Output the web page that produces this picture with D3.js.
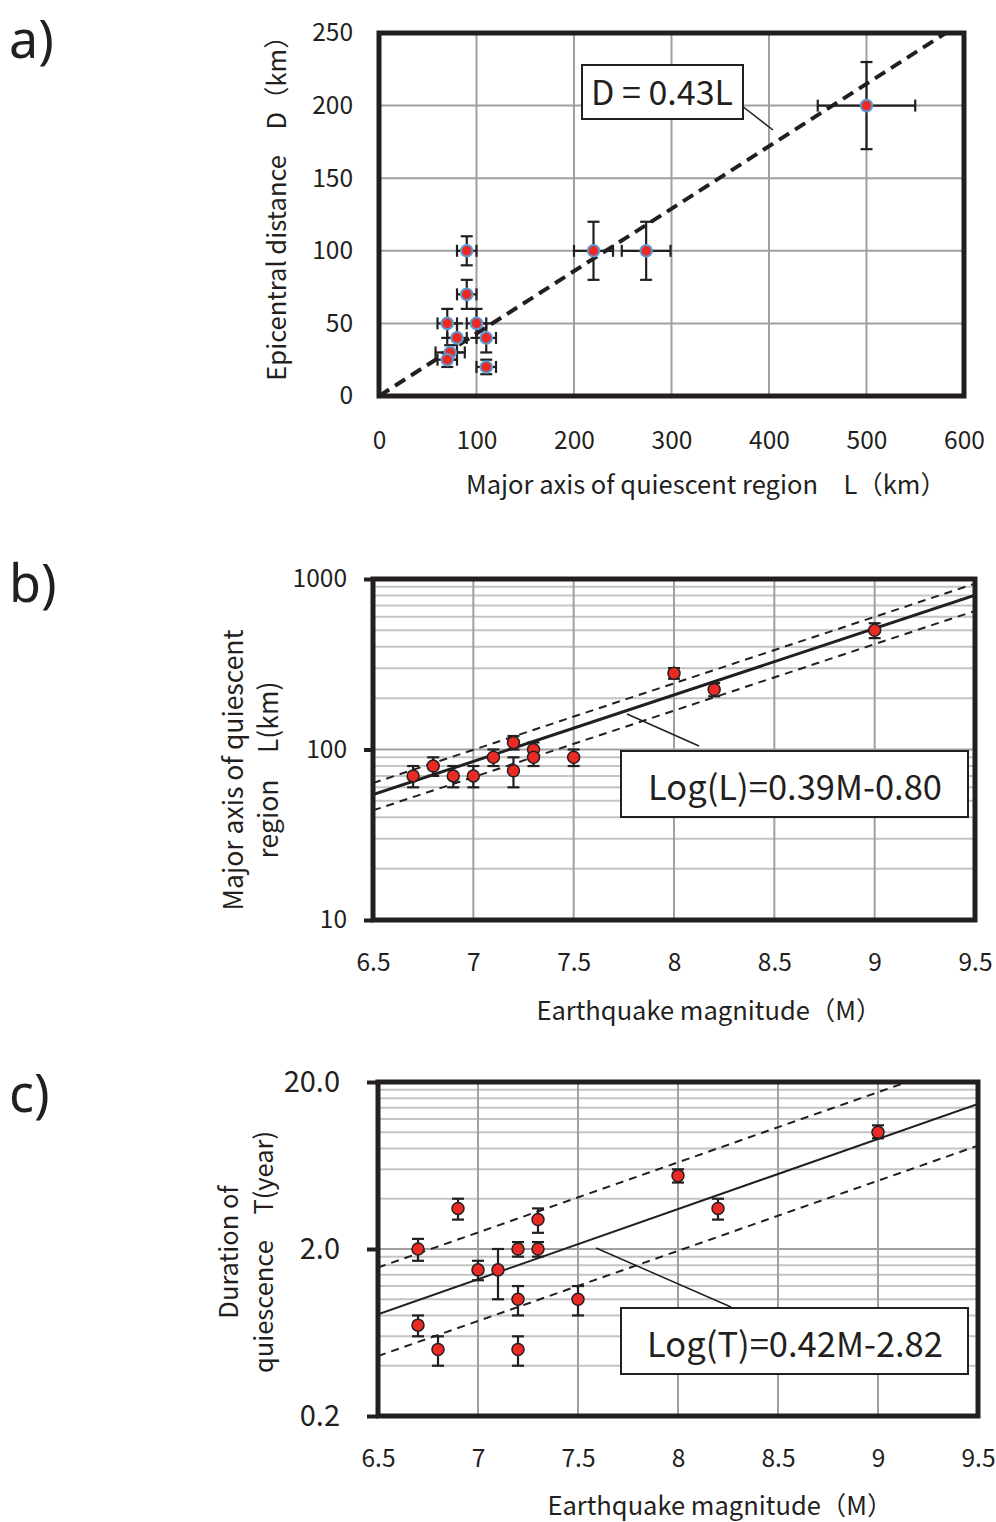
<!DOCTYPE html>
<html>
<head>
<meta charset="utf-8">
<script src="https://cdn.jsdelivr.net/npm/d3@7"></script>
<style>
  body { margin: 0; background: #fff; }
  text { font-family: "Noto Sans CJK JP", "Noto Sans", sans-serif; fill: #231f20; }
</style>
</head>
<body>
<div id="chart"></div>
<script>
// ---- panel a data: L (km) vs D (km) with error bars
var aL    = [90, 90, 70, 100, 80, 110, 73, 70, 110, 220, 274, 500];
var aD    = [100, 70, 50, 50, 40, 40, 30, 25, 20, 100, 100, 200];
var aLerr = [10, 10, 10, 10, 10, 10, 15, 10, 10, 20, 25, 50];
var aDerr = [10, 10, 10, 10, 10, 10, 5, 5, 5, 20, 20, 30];
var aSlope = 0.43;
var aXTicks = [0, 100, 200, 300, 400, 500, 600];
var aYTicks = [0, 50, 100, 150, 200, 250];

// ---- panel b data: magnitude vs L (km)
var bM  = [6.7, 6.8, 6.9, 7.0, 7.1, 7.2, 7.2, 7.3, 7.3, 7.5, 8.0, 8.2, 9.0];
var bL  = [70, 80, 70, 70, 90, 110, 75, 100, 90, 90, 280, 225, 500];
var bLo = [60, 70, 60, 60, 80, 100, 60, 90, 80, 80, 260, 205, 450];
var bHi = [80, 90, 80, 80, 100, 120, 90, 110, 100, 100, 300, 245, 550];
var bFit = { a: 0.39, b: -0.80, up: 0.068, down: -0.092 };
var bYTicks = [10, 100, 1000];

// ---- panel c data: magnitude vs T (year)
var cM  = [6.7, 6.7, 6.8, 6.9, 7.0, 7.1, 7.2, 7.2, 7.2, 7.3, 7.3, 7.5, 8.0, 8.2, 9.0];
var cT  = [2.0, 0.7, 0.5, 3.5, 1.5, 1.5, 2.0, 1.0, 0.5, 2.0, 3.0, 1.0, 5.5, 3.5, 10];
var cLo = [1.7, 0.6, 0.4, 3.0, 1.3, 1.0, 1.8, 0.8, 0.4, 1.8, 2.5, 0.8, 5.0, 3.0, 9.2];
var cHi = [2.3, 0.8, 0.6, 4.0, 1.7, 2.0, 2.2, 1.2, 0.6, 2.2, 3.5, 1.2, 6.0, 4.0, 11];
var cFit = { a: 0.42, b: -2.82, up: 0.28, down: -0.25 };
var cYTicks = [0.2, 2, 20];
var cYLabels = ["0.2", "2.0", "20.0"];

var mTicks = [6.5, 7, 7.5, 8, 8.5, 9, 9.5];

var ink = "#231f20", red = "#ec2a24", blue = "#5b9bd5", grid = "#a0a0a0", minorGrid = "#c4c4c4";
var tickFont = 24.5, titleFont = 25.5;

var svg = d3.select("#chart").append("svg")
  .attr("width", 996)
  .attr("height", 1522);

// small helpers
function clip(id, x, y) {
  svg.append("clipPath").attr("id", id).append("rect")
    .attr("x", x.range()[0]).attr("y", y.range()[1])
    .attr("width", x.range()[1] - x.range()[0])
    .attr("height", y.range()[0] - y.range()[1]);
}
function frame(x, y, w) {
  svg.append("rect")
    .attr("x", x.range()[0]).attr("y", y.range()[1])
    .attr("width", x.range()[1] - x.range()[0])
    .attr("height", y.range()[0] - y.range()[1])
    .attr("fill", "none").attr("stroke", ink).attr("stroke-width", w);
}
function vgrid(g, x, y, vals) {
  g.selectAll(null).data(vals).enter().append("line")
    .attr("x1", d => x(d)).attr("x2", d => x(d))
    .attr("y1", y.range()[0]).attr("y2", y.range()[1])
    .attr("stroke", grid).attr("stroke-width", 2);
}
function hgrid(g, x, y, vals, col) {
  g.selectAll(null).data(vals).enter().append("line")
    .attr("y1", d => y(d)).attr("y2", d => y(d))
    .attr("x1", x.range()[0]).attr("x2", x.range()[1])
    .attr("stroke", col).attr("stroke-width", 2);
}
function styleAxis(g, size) {
  g.select(".domain").remove();
  g.selectAll("text").attr("font-size", size).attr("fill", ink)
    .style("font-family", '"Noto Sans CJK JP", "Noto Sans", sans-serif');
}
function vbars(g, xs, lo, hi, x, y, cap) {
  g.selectAll(null).data(xs).enter().append("line")
    .attr("x1", (d, i) => x(d)).attr("x2", (d, i) => x(d))
    .attr("y1", (d, i) => y(lo[i])).attr("y2", (d, i) => y(hi[i]));
  [lo, hi].forEach(function (arr) {
    g.selectAll(null).data(xs).enter().append("line")
      .attr("x1", (d, i) => x(d) - cap).attr("x2", (d, i) => x(d) + cap)
      .attr("y1", (d, i) => y(arr[i])).attr("y2", (d, i) => y(arr[i]));
  });
}
function label(x, y, lines, size) {
  var t = svg.append("text").attr("transform", "translate(" + x + "," + y + ") rotate(-90)")
    .attr("text-anchor", "middle").attr("font-size", size);
  lines.forEach(function (l, i) {
    t.append("tspan").attr("x", 0).attr("dy", i == 0 ? 0 : 35).text(l);
  });
  return t;
}

// panel letters
[["a)", 58], ["b)", 602], ["c)", 1112]].forEach(function (p) {
  svg.append("text").attr("x", 9).attr("y", p[1]).attr("font-size", 52)
    .style("font-family", '"Noto Sans", sans-serif').text(p[0]);
});

// ================= panel a =================
var xA = d3.scaleLinear().domain([0, 600]).range([379, 964]);
var yA = d3.scaleLinear().domain([0, 250]).range([396, 33]);
clip("clipA", xA, yA);

var gA = svg.append("g");
vgrid(gA, xA, yA, aXTicks.slice(1, -1));
hgrid(gA, xA, yA, aYTicks.slice(1, -1), grid);

gA.append("path")
  .datum(xA.domain())
  .attr("clip-path", "url(#clipA)")
  .attr("d", d3.line().x(d => xA(d)).y(d => yA(aSlope * d)))
  .attr("fill", "none").attr("stroke", ink).attr("stroke-width", 4)
  .attr("stroke-dasharray", "12,7");

// annotation box
gA.append("line").attr("x1", 742).attr("y1", 106).attr("x2", 773).attr("y2", 130)
  .attr("stroke", ink).attr("stroke-width", 1.5);
gA.append("rect").attr("x", 582).attr("y", 65).attr("width", 161).attr("height", 54)
  .attr("fill", "#fff").attr("stroke", ink).attr("stroke-width", 2);
gA.append("text").attr("x", 662).attr("y", 105).attr("text-anchor", "middle")
  .attr("font-size", 34).text("D = 0.43L");

var ebA = gA.append("g").attr("stroke", ink).attr("stroke-width", 2.2);
ebA.selectAll(null).data(aL).enter().append("line")
  .attr("x1", (d, i) => xA(d - aLerr[i])).attr("x2", (d, i) => xA(d + aLerr[i]))
  .attr("y1", (d, i) => yA(aD[i])).attr("y2", (d, i) => yA(aD[i]));
[-1, 1].forEach(function (s) {
  ebA.selectAll(null).data(aL).enter().append("line")
    .attr("x1", (d, i) => xA(d + s * aLerr[i])).attr("x2", (d, i) => xA(d + s * aLerr[i]))
    .attr("y1", (d, i) => yA(aD[i]) - 6).attr("y2", (d, i) => yA(aD[i]) + 6);
});
vbars(ebA, aL, aD.map((d, i) => d - aDerr[i]), aD.map((d, i) => d + aDerr[i]), xA, yA, 6);

gA.selectAll(null).data(aL).enter().append("circle")
  .attr("cx", d => xA(d)).attr("cy", (d, i) => yA(aD[i])).attr("r", 5.8)
  .attr("fill", red).attr("stroke", blue).attr("stroke-width", 2);

frame(xA, yA, 5);

svg.append("g").attr("transform", "translate(0,396)")
  .call(d3.axisBottom(xA).tickValues(aXTicks).tickSize(0).tickPadding(36))
  .call(g => styleAxis(g, tickFont));
svg.append("g").attr("transform", "translate(379,0)")
  .call(d3.axisLeft(yA).tickValues(aYTicks).tickSize(0).tickPadding(26))
  .call(g => styleAxis(g, tickFont));

svg.append("text").attr("x", 706).attr("y", 494).attr("text-anchor", "middle")
  .attr("font-size", titleFont).text("Major axis of quiescent region\u3000L\uff08km\uff09");
label(286, 202, ["Epicentral distance\u3000D\uff08km\uff09"], titleFont);

// ================= panel b =================
var xB = d3.scaleLinear().domain([6.5, 9.5]).range([373, 975]);
var yB = d3.scaleLog().domain([10, 1000]).range([920, 579]);
clip("clipB", xB, yB);

var gB = svg.append("g");
var minorB = [];
[10, 100].forEach(function (p) { for (var k = 2; k <= 9; k++) minorB.push(p * k); });
hgrid(gB, xB, yB, minorB, minorGrid);
hgrid(gB, xB, yB, [100], grid);
vgrid(gB, xB, yB, mTicks.slice(1, -1));

[[bFit.b, 3, null], [bFit.b + bFit.up, 2, "8,6"], [bFit.b + bFit.down, 2, "8,6"]].forEach(function (f) {
  gB.append("path")
    .datum(xB.domain())
    .attr("clip-path", "url(#clipB)")
    .attr("d", d3.line().x(d => xB(d)).y(d => yB(Math.pow(10, bFit.a * d + f[0]))))
    .attr("fill", "none").attr("stroke", ink).attr("stroke-width", f[1])
    .attr("stroke-dasharray", f[2]);
});

var ebB = gB.append("g").attr("stroke", ink).attr("stroke-width", 2.2);
vbars(ebB, bM, bLo, bHi, xB, yB, 6);
gB.selectAll(null).data(bM).enter().append("circle")
  .attr("cx", d => xB(d)).attr("cy", (d, i) => yB(bL[i])).attr("r", 6)
  .attr("fill", red).attr("stroke", ink).attr("stroke-width", 1.5);

gB.append("line").attr("x1", 627).attr("y1", 714).attr("x2", 699).attr("y2", 746)
  .attr("stroke", ink).attr("stroke-width", 1.5);
gB.append("rect").attr("x", 621).attr("y", 751).attr("width", 347).attr("height", 66)
  .attr("fill", "#fff").attr("stroke", ink).attr("stroke-width", 2);
gB.append("text").attr("x", 795).attr("y", 800).attr("text-anchor", "middle")
  .attr("font-size", 34.5).text("Log(L)=0.39M-0.80");

frame(xB, yB, 5);

svg.append("g").attr("transform", "translate(0,920)")
  .call(d3.axisBottom(xB).tickValues(mTicks).tickFormat(d3.format("")).tickSize(0).tickPadding(34))
  .call(g => styleAxis(g, tickFont));
svg.append("g").attr("transform", "translate(373,0)")
  .call(d3.axisLeft(yB).tickValues(bYTicks).tickFormat(d3.format("")).tickSize(9).tickPadding(17))
  .call(g => styleAxis(g, tickFont))
  .call(g => g.selectAll("line").attr("stroke", ink).attr("stroke-width", 4));

svg.append("text").attr("x", 709).attr("y", 1020).attr("text-anchor", "middle")
  .attr("font-size", titleFont).text("Earthquake magnitude\uff08M\uff09");
label(243, 770, ["Major axis of quiescent", "region\u3000L(km)"], 26.5);

// ================= panel c =================
var xC = d3.scaleLinear().domain([6.5, 9.5]).range([378, 978]);
var yC = d3.scaleLog().domain([0.2, 20]).range([1416, 1082]);
clip("clipC", xC, yC);

var gC = svg.append("g");
var minorC = [];
[0.2, 2].forEach(function (p) { for (var k = 2; k <= 9; k++) minorC.push(p * k); });
hgrid(gC, xC, yC, minorC, minorGrid);
hgrid(gC, xC, yC, [2], grid);
vgrid(gC, xC, yC, mTicks.slice(1, -1));

[[cFit.b, 2, null], [cFit.b + cFit.up, 2, "8,6"], [cFit.b + cFit.down, 2, "8,6"]].forEach(function (f) {
  gC.append("path")
    .datum(xC.domain())
    .attr("clip-path", "url(#clipC)")
    .attr("d", d3.line().x(d => xC(d)).y(d => yC(Math.pow(10, cFit.a * d + f[0]))))
    .attr("fill", "none").attr("stroke", ink).attr("stroke-width", f[1])
    .attr("stroke-dasharray", f[2]);
});

var ebC = gC.append("g").attr("stroke", ink).attr("stroke-width", 2.2);
vbars(ebC, cM, cLo, cHi, xC, yC, 6);
gC.selectAll(null).data(cM).enter().append("circle")
  .attr("cx", d => xC(d)).attr("cy", (d, i) => yC(cT[i])).attr("r", 6)
  .attr("fill", red).attr("stroke", ink).attr("stroke-width", 1.5);

gC.append("line").attr("x1", 596).attr("y1", 1248).attr("x2", 731).attr("y2", 1307)
  .attr("stroke", ink).attr("stroke-width", 1.5);
gC.append("rect").attr("x", 621).attr("y", 1308).attr("width", 347).attr("height", 66)
  .attr("fill", "#fff").attr("stroke", ink).attr("stroke-width", 2);
gC.append("text").attr("x", 795).attr("y", 1357).attr("text-anchor", "middle")
  .attr("font-size", 34.5).text("Log(T)=0.42M-2.82");

frame(xC, yC, 5);

svg.append("g").attr("transform", "translate(0,1416)")
  .call(d3.axisBottom(xC).tickValues(mTicks).tickFormat(d3.format("")).tickSize(0).tickPadding(34))
  .call(g => styleAxis(g, tickFont));
svg.append("g").attr("transform", "translate(378,0)")
  .call(d3.axisLeft(yC).tickValues(cYTicks).tickFormat((d, i) => cYLabels[i]).tickSize(11).tickPadding(27))
  .call(g => styleAxis(g, 29))
  .call(g => g.selectAll("line").attr("stroke", ink).attr("stroke-width", 4));

svg.append("text").attr("x", 720).attr("y", 1515).attr("text-anchor", "middle")
  .attr("font-size", titleFont).text("Earthquake magnitude\uff08M\uff09");
label(238, 1252, ["Duration of", "quiescence\u3000T(year)"], titleFont);
</script>
</body>
</html>
